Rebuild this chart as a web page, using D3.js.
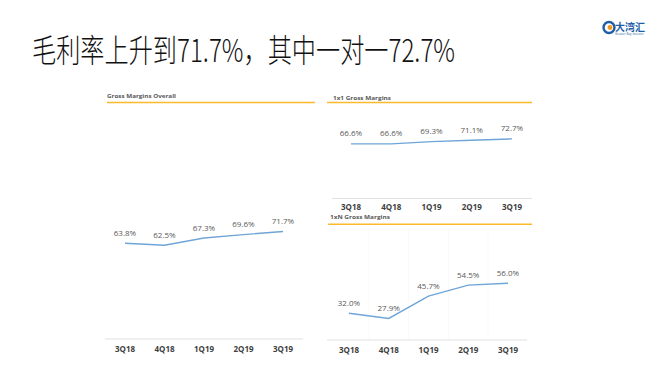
<!DOCTYPE html>
<html>
<head>
<meta charset="utf-8">
<script src="https://cdn.jsdelivr.net/npm/d3@7"></script>
<style>
  body { margin: 0; background: #fff; }
  svg { display: block; font-family: "Open Sans", "Noto Sans", sans-serif; }
</style>
</head>
<body>
<svg id="chart" width="660" height="371"></svg>
<script>
// data
var quarters = ["3Q18", "4Q18", "1Q19", "2Q19", "3Q19"];
var overall = [63.8, 62.5, 67.3, 69.6, 71.7];
var oneToOne = [66.6, 66.6, 69.3, 71.1, 72.7];
var oneToN = [32.0, 27.9, 45.7, 54.5, 56.0];

var svg = d3.select("#chart");
var orange = "#fbb92b";
var blue = "#6fa5d8";

// 标题
svg.append("text")
  .attr("x", 32).attr("y", 62)
  .attr("textLength", 423).attr("lengthAdjust", "spacingAndGlyphs")
  .style("font-family", "'Noto Sans CJK SC', sans-serif")
  .style("font-size", "32px")
  .style("font-weight", 300)
  .attr("fill", "#111")
  .text("毛利率上升到71.7%，其中一对一72.7%");

// logo
var logo = svg.append("g");
logo.append("circle").attr("cx", 609).attr("cy", 27.5).attr("r", 5.5)
  .attr("fill", "none").attr("stroke", "#1f5fa6").attr("stroke-width", 2.4);
logo.append("circle").attr("cx", 610).attr("cy", 27.5).attr("r", 2.4).attr("fill", "#f39a1e");
logo.append("text").attr("x", 615).attr("y", 30.5)
  .style("font-family", "'Noto Sans CJK SC', sans-serif")
  .style("font-size", "10px").style("font-weight", "bold")
  .attr("fill", "#1f5fa6").text("大湾汇");
logo.append("text").attr("x", 615).attr("y", 35)
  .style("font-size", "3px").attr("fill", "#1f5fa6").text("Greater Bay Investor");

// 面板配置
var panels = [
  { title: "Gross Margins Overall", values: overall, titleX: 107, titleY: 97.5, titleW: 69,
    ruleX: [107, 315], ruleY: 102.5, axisX: [105, 303], axisY: 339,
    xRange: [125, 283], catY: 352, domain: [0, 100], yRange: [339, 189] },
  { title: "1x1 Gross Margins", values: oneToOne, titleX: 333, titleY: 99.5, titleW: 58,
    ruleX: [327, 532], ruleY: 102.5, axisX: [332, 532], axisY: 198.5,
    xRange: [351, 512], catY: 210, domain: [0, 100], yRange: [198.5, 116.5] },
  { title: "1xN Gross Margins", values: oneToN, titleX: 330, titleY: 219, titleW: 60,
    ruleX: [328, 532], ruleY: 224.3, axisX: [327, 527], axisY: 340,
    xRange: [349, 508], catY: 353, domain: [10, 90], yRange: [340.8, 240.8], grid: true }
];

panels.forEach(function (p) {
  var g = svg.append("g");
  var x = d3.scalePoint().domain(quarters).range(p.xRange);
  var y = d3.scaleLinear().domain(p.domain).range(p.yRange);

  if (p.grid) {
    var step = x.step();
    g.selectAll("line.grid")
      .data(quarters.slice(0, 4))
      .enter().append("line")
      .attr("x1", function (d) { return x(d) + step / 2; })
      .attr("x2", function (d) { return x(d) + step / 2; })
      .attr("y1", p.ruleY + 4).attr("y2", p.axisY)
      .attr("stroke", "#fafafa");
  }

  g.append("text")
    .attr("x", p.titleX).attr("y", p.titleY)
    .attr("textLength", p.titleW).attr("lengthAdjust", "spacingAndGlyphs")
    .style("font-size", "6px").style("font-weight", "bold")
    .attr("fill", "#595959").text(p.title);

  g.append("line")
    .attr("x1", p.ruleX[0]).attr("x2", p.ruleX[1])
    .attr("y1", p.ruleY).attr("y2", p.ruleY)
    .attr("stroke", orange).attr("stroke-width", 1.6);

  g.append("line")
    .attr("x1", p.axisX[0]).attr("x2", p.axisX[1])
    .attr("y1", p.axisY).attr("y2", p.axisY)
    .attr("stroke", "#d9d9d9").attr("stroke-width", 0.8);

  var line = d3.line()
    .x(function (d, i) { return x(quarters[i]); })
    .y(function (d) { return y(d); });

  g.append("path")
    .datum(p.values)
    .attr("d", line)
    .attr("fill", "none")
    .attr("stroke", blue)
    .attr("stroke-width", 1.4);

  g.selectAll("text.val")
    .data(p.values)
    .enter().append("text")
    .attr("x", function (d, i) { return x(quarters[i]); })
    .attr("y", function (d) { return y(d) - 7.5; })
    .attr("text-anchor", "middle")
    .style("font-size", "8px")
    .attr("fill", "#595959")
    .text(function (d) { return d.toFixed(1) + "%"; });

  g.selectAll("text.cat")
    .data(quarters)
    .enter().append("text")
    .attr("x", function (d) { return x(d); })
    .attr("y", p.catY)
    .attr("text-anchor", "middle")
    .style("font-size", "8px").style("font-weight", "bold")
    .attr("fill", "#404040")
    .text(function (d) { return d; });
});
</script>
</body>
</html>
